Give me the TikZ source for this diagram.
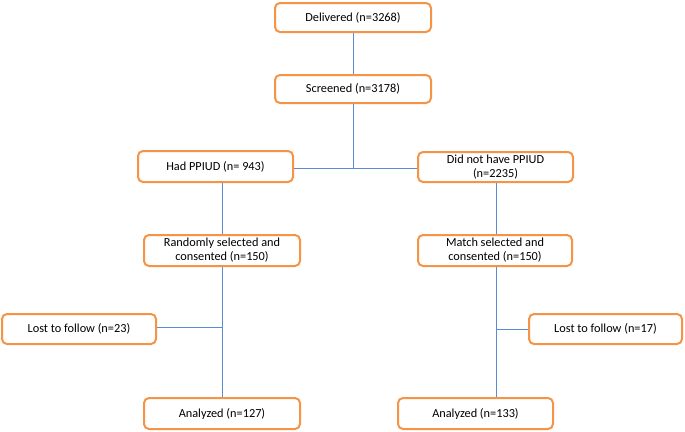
\documentclass[tikz,border=0pt]{standalone}
\usepackage{fontspec}
\setmainfont{Carlito}
\definecolor{boxorange}{RGB}{245,148,70}
\definecolor{lineblue}{RGB}{91,139,210}
\begin{document}
\begin{tikzpicture}[x=1pt,y=-1pt,
  box/.style={draw=boxorange,line width=2pt,rounded corners=5pt,fill=white,
    align=center,inner sep=0pt,font=\fontsize{12.3}{14}\selectfont,text=black},
  conn/.style={draw=lineblue,line width=0.8pt}]
\useasboundingbox (0,0) rectangle (685,431);
\node[box,minimum width=156,minimum height=29] (del) at (353,17.5) {Delivered (n=3268)};
\node[box,minimum width=156,minimum height=28] (scr) at (353,89) {Screened (n=3178)};
\node[box,minimum width=155,minimum height=31] (had) at (215.5,166.5) {Had PPIUD (n= 943)};
\node[box,minimum width=155,minimum height=30] (did) at (495.5,167) {Did not have PPIUD\\(n=2235)};
\node[box,minimum width=156,minimum height=31] (ran) at (222,250.5) {Randomly selected and\\consented (n=150)};
\node[box,minimum width=154,minimum height=31] (mat) at (495,250.5) {Match selected and\\consented (n=150)};
\node[box,minimum width=154,minimum height=30] (lostl) at (79,329) {Lost to follow (n=23)};
\node[box,minimum width=153,minimum height=30] (lostr) at (605.5,329) {Lost to follow (n=17)};
\node[box,minimum width=156,minimum height=31] (anl) at (222,413.5) {Analyzed (n=127)};
\node[box,minimum width=155,minimum height=31] (anr) at (475.5,413.5) {Analyzed (n=133)};
\coordinate (j) at (353,168);
\coordinate (jl) at (222,327);
\coordinate (jr) at (496,329);
\draw[conn] (del.south) -- (scr.north);
\draw[conn] (scr.south) -- (j);
\draw[conn] (had.east |- j) -- (did.west |- j);
\draw[conn] (had.south -| ran.north) -- (ran.north);
\draw[conn] (ran.south) -- (anl.north);
\draw[conn] (lostl.east |- jl) -- (jl);
\draw[conn] (did.south -| jr) -- (mat.north -| jr);
\draw[conn] (mat.south -| jr) -- (anr.north -| jr);
\draw[conn] (lostr.west |- jr) -- (jr);
\end{tikzpicture}
\end{document}
